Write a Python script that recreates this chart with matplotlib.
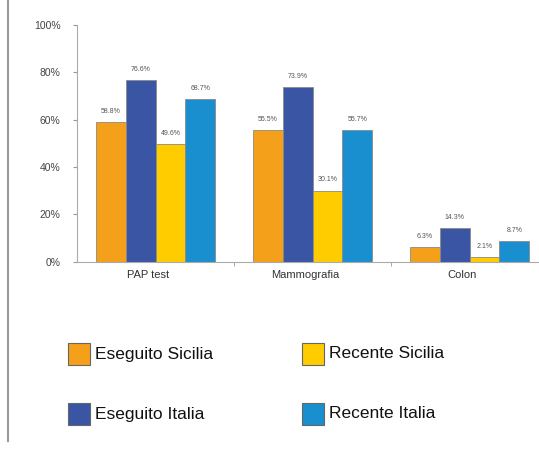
import numpy as np
import matplotlib.pyplot as plt
from matplotlib.patches import Rectangle
from matplotlib.lines import Line2D

plt.rcParams['font.family'] = ['Liberation Sans', 'DejaVu Sans']

categories = ["PAP test", "Mammografia", "Colon"]
series = ["Eseguito Sicilia", "Eseguito Italia", "Recente Sicilia", "Recente Italia"]
values = {
    "Eseguito Sicilia": [58.8, 55.5, 6.3],
    "Eseguito Italia": [76.6, 73.9, 14.3],
    "Recente Sicilia": [49.6, 30.1, 2.1],
    "Recente Italia": [68.7, 55.7, 8.7],
}
colors = {
    "Eseguito Sicilia": "#F5A01A",
    "Eseguito Italia": "#3A55A4",
    "Recente Sicilia": "#FFCC00",
    "Recente Italia": "#1A8FD0",
}
yticks = [0, 20, 40, 60, 80, 100]

fig = plt.figure(figsize=(5.39, 4.5), dpi=100)
# plot area runs a little past the right edge, as in the original
ax = fig.add_axes([0.143, 0.418, 0.874, 0.527])

x = np.arange(len(categories))
w = 0.19
for k, s in enumerate(series):
    pos = x + (k - 1.5) * w
    ax.bar(pos, values[s], width=w, color=colors[s], edgecolor="#8a8a8a", linewidth=0.6)
    for p, v in zip(pos, values[s]):
        ax.text(p, v + 3, f"{v:.1f}%", ha="center", va="bottom", fontsize=5, color="#555555")

ax.set_xlim(-0.5, 2.5)
ax.set_ylim(0, 100)
ax.set_yticks(yticks)
ax.set_yticklabels([f"{t}%" for t in yticks], fontsize=7.5, color="#444444")
ax.set_xticks(x - 0.05)
ax.set_xticklabels(categories, fontsize=8, color="#333333")
ax.tick_params(axis="x", length=0, pad=6)
ax.set_xticks([0.5, 1.5], minor=True)
ax.tick_params(axis="x", which="minor", length=3, color="#999999")
ax.tick_params(axis="y", length=3, color="#999999", pad=9)
for sp in ["top", "right"]:
    ax.spines[sp].set_visible(False)
for sp in ["left", "bottom"]:
    ax.spines[sp].set_color("#aaaaaa")
    ax.spines[sp].set_linewidth(0.8)

# legend in two columns below the plot
lx = [68, 302]
ly = [354, 414]
for k, s in enumerate(series):
    col = 0 if k in (0, 1) else 1
    row = 0 if k in (0, 2) else 1
    x0 = lx[col] / 539
    y0 = 1 - (ly[row] + 11) / 450
    fig.patches.append(Rectangle((x0, y0), 22 / 539, 22 / 450, transform=fig.transFigure,
                                 facecolor=colors[s], edgecolor="#666666", linewidth=0.8))
    fig.text(x0 + 27 / 539, 1 - ly[row] / 450, s, fontsize=12.5, va="center", ha="left", color="#111111")

fig.lines.append(Line2D([8 / 539, 8 / 539], [0.02, 1.0], transform=fig.transFigure,
                        color="#999999", linewidth=1.5))

fig.savefig("out.png", dpi=100)
